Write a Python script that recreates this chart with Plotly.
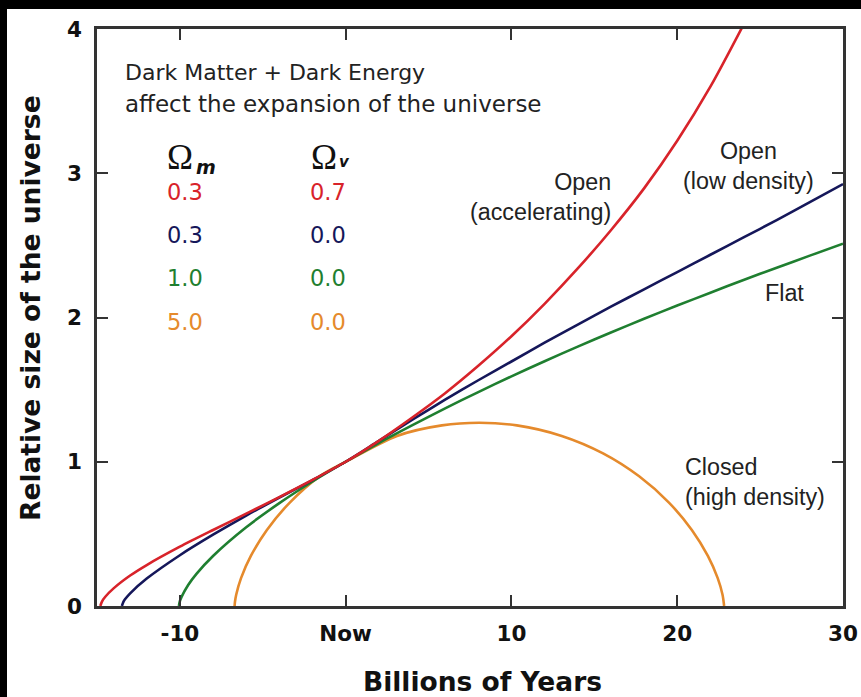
import plotly.graph_objects as go

# ---------------- data ----------------
red_x = [-14.8, -14.7, -14.5, -14, -13, -12, -10, -8, -6, -4, -2, 0, 2, 4, 6, 8, 10, 12, 14, 16, 18, 20, 22, 24]
red_y = [0, 0.031, 0.064, 0.122, 0.211, 0.284, 0.411, 0.527, 0.640, 0.755, 0.874, 1.0, 1.145, 1.305, 1.475, 1.665,
         1.87, 2.095, 2.34, 2.605, 2.895, 3.225, 3.60, 4.03]

blue_x = [-13.5, -13.4, -13.3, -13, -12, -10, -8, -6, -4, -2, 0, 2, 4, 6, 8, 10, 12, 14, 16, 18, 20, 22, 24, 26, 28, 30]
blue_y = [0, 0.030, 0.048, 0.088, 0.190, 0.352, 0.494, 0.627, 0.752, 0.873, 1.0, 1.145, 1.29, 1.43, 1.565, 1.695,
          1.825, 1.95, 2.075, 2.195, 2.315, 2.435, 2.555, 2.675, 2.80, 2.925]

green_x = [-10.06, -10, -9.9, -9.5, -9, -8, -6, -4, -2, 0, 2, 4, 6, 8, 10, 12, 14, 16, 18, 20, 22, 24, 26, 28, 30]
green_y = [0, 0.033, 0.063, 0.146, 0.223, 0.347, 0.546, 0.713, 0.863, 1.0, 1.13, 1.252, 1.37, 1.483, 1.592, 1.697,
           1.798, 1.896, 1.991, 2.083, 2.172, 2.26, 2.345, 2.429, 2.512]

orange_x = [-6.7, -6.679, -6.603, -6.312, -5.719, -4.752, -3.371, -1.574, 0, 3.097, 5.805, 8.065, 10.325, 13.033,
            15.525, 17.704, 19.501, 20.882, 21.849, 22.442, 22.733, 22.83]
orange_y = [0, 0.028, 0.078, 0.193, 0.347, 0.527, 0.717, 0.899, 1.0, 1.179, 1.252, 1.27, 1.252, 1.179, 1.058, 0.899,
            0.717, 0.527, 0.347, 0.193, 0.078, 0]

x_tickvals = [-10, 0, 10, 20, 30]
x_ticktext = ["-10", "Now", "10", "20", "30"]
y_tickvals = [0, 1, 2, 3, 4]

omega_m = ["0.3", "0.3", "1.0", "5.0"]
omega_v = ["0.7", "0.0", "0.0", "0.0"]

RED = "#d8232a"
NAVY = "#15175a"
GREEN = "#1f7f30"
ORANGE = "#e58a2c"
row_colors = [RED, NAVY, GREEN, ORANGE]

# ---------------- layout geometry ----------------
W, H = 861, 697
L, R, T, B = 97, 18, 29, 91
PW, PH = W - L - R, H - T - B


def pp(px, py):
    return (px - L) / PW, (H - B - py) / PH


fig = go.Figure()
for xs, ys, col in [(orange_x, orange_y, ORANGE), (green_x, green_y, GREEN),
                    (blue_x, blue_y, NAVY), (red_x, red_y, RED)]:
    fig.add_trace(go.Scatter(x=xs, y=ys, mode="lines", line=dict(color=col, width=2.6, shape="spline", smoothing=0.8),
                             showlegend=False, hoverinfo="skip"))

ann = []


def add_text(text, px, py, size, family="DejaVu Sans", color="#222", xanchor="center", yanchor="middle",
             align="center", weight="normal", style="normal", textangle=0):
    x, y = pp(px, py)
    ann.append(dict(text=text, x=x, y=y, xref="paper", yref="paper", showarrow=False, xanchor=xanchor,
                    yanchor=yanchor, align=align, textangle=textangle,
                    font=dict(family=family, size=size, color=color, weight=weight, style=style)))


add_text("Dark Matter + Dark Energy", 123, 72, 22, xanchor="left")
add_text("affect the expansion of the universe", 123, 103.5, 23, xanchor="left")

add_text("Ω", 180, 157, 35, family="Liberation Serif", color="#111")
add_text("m", 206, 167, 19, color="#111", weight="bold", style="italic")
add_text("Ω", 324, 157, 35, family="Liberation Serif", color="#111")
add_text("v", 344, 162, 15, color="#111", weight="bold", style="italic")

row_y = [192, 235, 278, 322]
for m, v, c, ry in zip(omega_m, omega_v, row_colors, row_y):
    add_text(m, 185, ry, 22.5, color=c)
    add_text(v, 328, ry, 22.5, color=c)

LBL = "Liberation Sans"
add_text("Open<br>(accelerating)", 613, 197, 23.3, family=LBL, xanchor="right", align="right")
add_text("Open<br>(low density)", 748, 166, 23.3, family=LBL)
add_text("Flat", 763, 293, 23.3, family=LBL, xanchor="left")
add_text("Closed<br>(high density)", 683, 482, 23.3, family=LBL, xanchor="left", align="left")

add_text("Billions of Years", 482, 681, 26.5, color="#111", weight="bold")
add_text("Relative size of the universe", 30, 308, 26.5, color="#111", weight="bold", textangle=-90)

axis_common = dict(showgrid=False, zeroline=False, showline=True, linecolor="#333", linewidth=2.5,
                   mirror="ticks", ticks="inside", ticklen=11, tickwidth=2, tickcolor="#333", automargin=False,
                   tickfont=dict(family="DejaVu Sans", size=21.5, color="#111", weight="bold"))

fig.update_layout(
    width=W, height=H, autosize=False,
    margin=dict(l=L, r=R, t=T, b=B, pad=0, autoexpand=False),
    paper_bgcolor="white", plot_bgcolor="white",
    xaxis=dict(range=[-15, 30], tickvals=x_tickvals, ticktext=x_ticktext, ticklabelstandoff=6, **axis_common),
    yaxis=dict(range=[0, 4], tickvals=y_tickvals, ticklabelstandoff=8, **axis_common),
    annotations=ann,
    shapes=[
        dict(type="rect", xref="paper", yref="paper", x0=-0.2, x1=1.2, y0=(H - B - 9) / PH, y1=1.2,
             fillcolor="black", line=dict(width=0), layer="above"),
        dict(type="rect", xref="paper", yref="paper", x0=-0.2, x1=(7 - L) / PW, y0=-0.3, y1=1.2,
             fillcolor="black", line=dict(width=0), layer="above"),
    ],
)

fig.write_html("out.html", config={"displayModeBar": False, "responsive": False},
               post_script=("var h=document.documentElement;h.style.overflow='hidden';h.style.margin='0';"
                            "h.style.background='white';"
                            "document.body.style.margin='0';document.body.style.overflow='hidden';"
                            "document.body.style.background='white';"))
